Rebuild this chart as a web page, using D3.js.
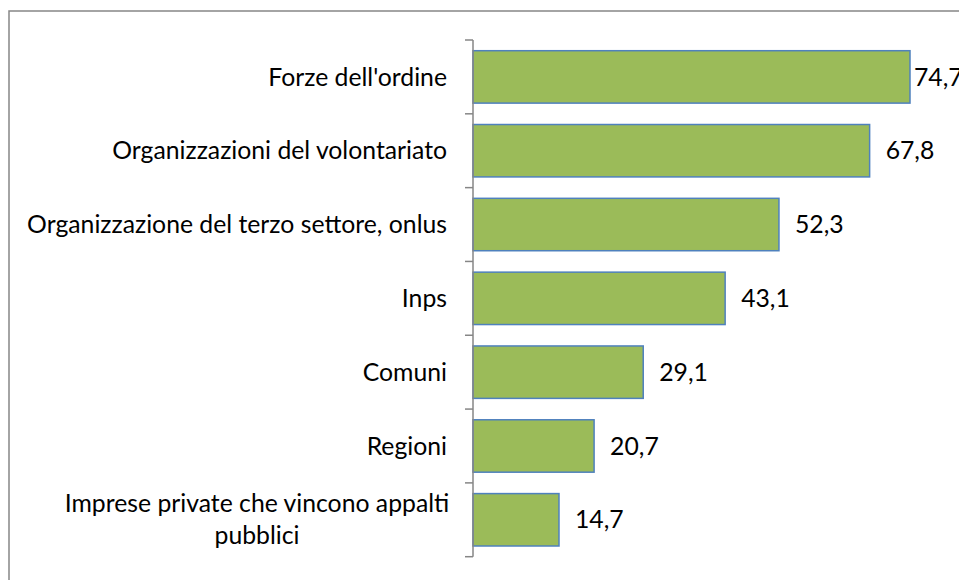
<!DOCTYPE html>
<html>
<head>
<meta charset="utf-8">
<script src="https://cdn.jsdelivr.net/npm/d3@7/dist/d3.min.js"></script>
<style>
  html, body { margin: 0; padding: 0; background: #fff; }
  svg { display: block; }
</style>
</head>
<body>
<div id="chart"></div>
<script>
// Categories, top to bottom (label lines split where the original wraps)
const categories = [
  ["Forze dell'ordine"],
  ["Organizzazioni del volontariato"],
  ["Organizzazione del terzo settore, onlus"],
  ["Inps"],
  ["Comuni"],
  ["Regioni"],
  ["Imprese private che vincono appalti", "pubblici"]
];
const values = [74.7, 67.8, 52.3, 43.1, 29.1, 20.7, 14.7];

const width = 959;
const height = 580;
const margin = { top: 40, left: 473, bottom: 23.3 };
const FONT = 'Lato, "Open Sans", sans-serif';
const AXIS_COLOR = '#868686';

const svg = d3.select('#chart').append('svg')
  .attr('width', width)
  .attr('height', height);

// Outer chart frame (runs off the right and bottom edges)
svg.append('rect')
  .attr('x', 9)
  .attr('y', 11)
  .attr('width', width + 20)
  .attr('height', height + 20)
  .attr('fill', 'none')
  .attr('stroke', AXIS_COLOR)
  .attr('stroke-width', 1.5);

const data = categories.map((c, i) => ({ key: i, lines: c, value: values[i] }));

const x = d3.scaleLinear()
  .domain([0, 74.7])
  .range([margin.left, 910]);

const y = d3.scaleBand()
  .domain(data.map(d => d.key))
  .range([margin.top, height - margin.bottom])
  .paddingInner(0.29)
  .paddingOuter(0.145);

// Fit font size so the longest label matches the original width
const probe = svg.append('text')
  .attr('font-family', FONT)
  .attr('font-size', 20)
  .text('Organizzazione del terzo settore, onlus');
const probeW = probe.node().getComputedTextLength();
probe.remove();
const fontSize = 20 * 420 / probeW;
const fmt = v => d3.format('.1f')(v).replace('.', ',');

// Bars
svg.append('g')
  .selectAll('rect')
  .data(data)
  .join('rect')
  .attr('x', x(0))
  .attr('y', d => y(d.key))
  .attr('width', d => x(d.value) - x(0))
  .attr('height', y.bandwidth())
  .attr('fill', '#9BBB59')
  .attr('stroke', '#4F81BD')
  .attr('stroke-width', 1.5);

// Category axis
const tickPos = d3.range(data.length + 1).map(i => margin.top + i * y.step());
const axis = svg.append('g');
axis.append('line')
  .attr('x1', x(0)).attr('x2', x(0))
  .attr('y1', tickPos[0]).attr('y2', tickPos[tickPos.length - 1])
  .attr('stroke', AXIS_COLOR)
  .attr('stroke-width', 1.5);
axis.selectAll('.tick')
  .data(tickPos)
  .join('line')
  .attr('class', 'tick')
  .attr('x1', x(0) - 8).attr('x2', x(0))
  .attr('y1', d => d).attr('y2', d => d)
  .attr('stroke', AXIS_COLOR)
  .attr('stroke-width', 1.5);

// Category labels
const lineH = 32;
svg.append('g')
  .selectAll('text')
  .data(data)
  .join('text')
  .attr('font-family', FONT)
  .attr('font-size', fontSize)
  .attr('fill', '#000')
  .attr('text-anchor', d => d.lines.length > 1 ? 'middle' : 'end')
  .each(function(d) {
    const cy = y(d.key) + y.bandwidth() / 2;
    const sel = d3.select(this);
    if (d.lines.length > 1) {
      // wrapped labels are centred under each other like the original
      const cx = 257;
      d.lines.forEach((ln, j) => {
        sel.append('tspan')
          .attr('x', cx)
          .attr('y', cy + (j - (d.lines.length - 1) / 2) * lineH)
          .attr('dy', '0.35em')
          .text(ln);
      });
    } else {
      sel.attr('x', 447).attr('y', cy).attr('dy', '0.35em').text(d.lines[0]);
    }
  });

// Value labels
svg.append('g')
  .selectAll('text')
  .data(data)
  .join('text')
  .attr('font-family', FONT)
  .attr('font-size', fontSize)
  .attr('fill', '#000')
  .attr('x', d => Math.min(x(d.value) + 16, 914))
  .attr('y', d => y(d.key) + y.bandwidth() / 2)
  .attr('dy', '0.35em')
  .text(d => fmt(d.value));
</script>
</body>
</html>
